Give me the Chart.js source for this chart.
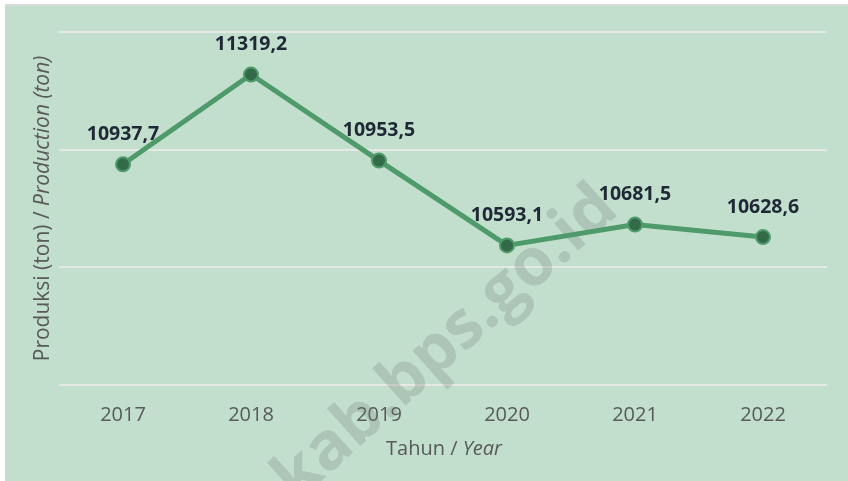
<!DOCTYPE html>
<html>
<head>
<meta charset="utf-8">
<script src="https://cdn.jsdelivr.net/npm/chart.js@4.4.1/dist/chart.umd.min.js"></script>
<style>
  html, body { margin: 0; padding: 0; background: #ffffff; }
  #wrap { width: 848px; height: 481px; }
</style>
</head>
<body>
<div id="wrap"><canvas id="c" width="848" height="481"></canvas></div>
<script>
// ---- data ----
const categories = ['2017', '2018', '2019', '2020', '2021', '2022'];
const production = [10937.7, 11319.2, 10953.5, 10593.1, 10681.5, 10628.6];
const yMin = 10000;
const yMax = 11500;
const yStep = 500;
const yTitleParts = ['Produksi (ton) / ', 'Production (ton)'];
const xTitleParts = ['Tahun / ', 'Year'];
const watermarkText = 'kab.bps.go.id';

const BG = '#c2dfcd';
const LINE = '#4f9a6b';
const POINT = '#336b48';
const TEXT_GRAY = '#595959';
const LABEL = '#1f2835';
const FONT = "'Open Sans', 'DejaVu Sans', sans-serif";

function fmt(v) { return v.toFixed(1).replace('.', ','); }

const backgroundPlugin = {
  id: 'bg',
  beforeDraw(chart) {
    const ctx = chart.ctx;
    ctx.save();
    ctx.fillStyle = '#ffffff';
    ctx.fillRect(0, 0, chart.width, chart.height);
    ctx.fillStyle = '#d9d9d9';
    ctx.fillRect(5, 4, chart.width - 5, 2);
    ctx.fillStyle = BG;
    ctx.fillRect(5, 6, chart.width - 5, chart.height - 6);
    ctx.restore();
  }
};

function drawMixed(ctx, parts, cx, cy, size) {
  ctx.font = size + 'px ' + FONT;
  const w1 = ctx.measureText(parts[0]).width;
  ctx.font = 'italic ' + size + 'px ' + FONT;
  const w2 = ctx.measureText(parts[1]).width;
  const start = cx - (w1 + w2) / 2;
  ctx.textAlign = 'left';
  ctx.textBaseline = 'middle';
  ctx.fillStyle = TEXT_GRAY;
  ctx.font = size + 'px ' + FONT;
  ctx.fillText(parts[0], start, cy);
  ctx.font = 'italic ' + size + 'px ' + FONT;
  ctx.fillText(parts[1], start + w1, cy);
}

const decorPlugin = {
  id: 'decor',
  beforeDatasetsDraw(chart) {
    const ctx = chart.ctx;
    const area = chart.chartArea;
    // watermark
    ctx.save();
    ctx.translate(446, 344);
    ctx.rotate(-Math.PI / 4.3);
    ctx.font = 'bold 66px ' + FONT;
    ctx.textAlign = 'center';
    ctx.textBaseline = 'middle';
    ctx.fillStyle = 'rgba(110,120,115,0.25)';
    ctx.fillText(watermarkText, 0, 0);
    ctx.restore();
    // y title
    ctx.save();
    ctx.translate(43, (area.top + area.bottom) / 2);
    ctx.rotate(-Math.PI / 2);
    drawMixed(ctx, yTitleParts, 0, 0, 21);
    ctx.restore();
    // x title
    ctx.save();
    drawMixed(ctx, xTitleParts, (area.left + area.right) / 2 + 1, 449, 20);
    ctx.restore();
  },
  afterDatasetsDraw(chart) {
    const ctx = chart.ctx;
    const meta = chart.getDatasetMeta(0);
    ctx.save();
    ctx.font = 'bold 19.5px ' + FONT;
    ctx.textAlign = 'center';
    ctx.textBaseline = 'middle';
    ctx.fillStyle = LABEL;
    meta.data.forEach((pt, i) => {
      ctx.fillText(fmt(production[i]), pt.x, pt.y - 30);
    });
    ctx.restore();
  }
};

new Chart(document.getElementById('c'), {
  type: 'line',
  data: {
    labels: categories,
    datasets: [{
      data: production,
      borderColor: LINE,
      borderWidth: 5,
      backgroundColor: POINT,
      pointBackgroundColor: POINT,
      pointBorderColor: LINE,
      pointBorderWidth: 2,
      pointRadius: 7,
      tension: 0,
      fill: false
    }]
  },
  options: {
    responsive: false,
    animation: false,
    devicePixelRatio: 1,
    layout: { padding: { left: 59, right: 21, top: 32, bottom: 0 } },
    plugins: {
      legend: { display: false },
      tooltip: { enabled: false },
      title: { display: false }
    },
    scales: {
      x: {
        offset: true,
        grid: { display: false, drawTicks: false },
        border: { display: false },
        ticks: {
          color: TEXT_GRAY,
          font: { family: FONT, size: 20 },
          padding: 18,
          maxRotation: 0
        },
        afterFit(s) { s.height = 96; }
      },
      y: {
        min: yMin,
        max: yMax,
        ticks: { display: false, stepSize: yStep },
        grid: { color: '#e6e8e6', lineWidth: 2, drawTicks: false },
        border: { display: false },
        afterFit(s) { s.width = 0; }
      }
    }
  },
  plugins: [backgroundPlugin, decorPlugin]
});
</script>
</body>
</html>
